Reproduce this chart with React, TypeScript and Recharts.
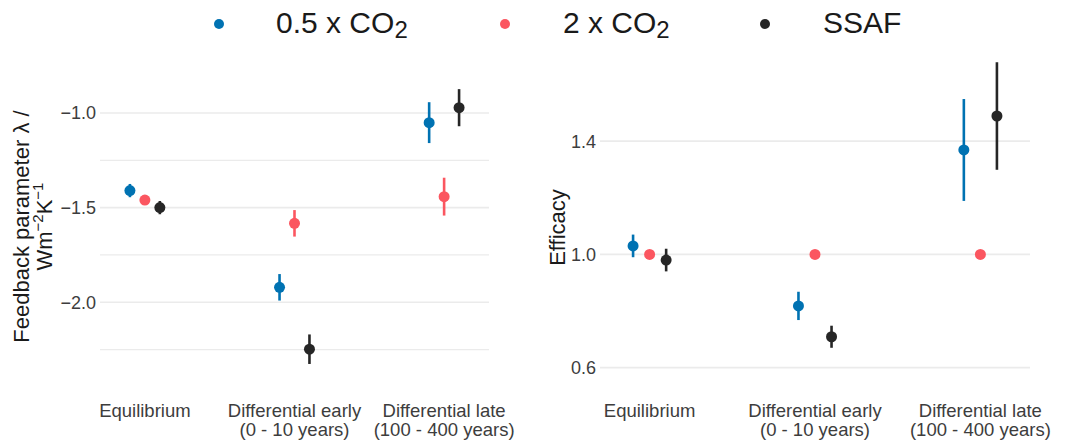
import React from "react";
import { ScatterChart, Scatter, XAxis, YAxis, ErrorBar, ReferenceLine } from "recharts";

// ---------- data ----------
const categoryLine1 = ["Equilibrium", "Differential early", "Differential late"];
const categoryLine2 = ["", "(0 - 10 years)", "(100 - 400 years)"];
const categoryPositions = [1, 2, 3];

const seriesLabels = ["0.5 x CO", "2 x CO", "SSAF"];
const seriesSubscripts = ["2", "2", ""];

const lambdaHalf = [-1.41, -1.921, -1.051];
const lambdaHalfErr = [0.035, 0.07, 0.108];
const lambdaDouble = [-1.46, -1.583, -1.442];
const lambdaDoubleErr = [0.012, 0.07, 0.1];
const lambdaSsaf = [-1.5, -2.248, -0.972];
const lambdaSsafErr = [0.035, 0.078, 0.098];

const efficacyHalf = [1.03, 0.818, 1.369];
const efficacyHalfErr = [0.04, 0.05, 0.18];
const efficacyDouble = [1.0, 1.0, 1.0];
const efficacyDoubleErr = [0, 0, 0];
const efficacySsaf = [0.98, 0.709, 1.489];
const efficacySsafErr = [0.04, 0.039, 0.19];

const lambdaTicks = [-2.0, -1.5, -1.0];
const lambdaMinorTicks = [-2.25, -1.75, -1.25];
const efficacyTicks = [0.6, 1.0, 1.4];

// ---------- styles ----------
const COLORS = ["#0072B2", "#FB5660", "#262626"];
const DODGE = [-0.1, 0, 0.1];
const FONT = "'Liberation Sans', Arial, Helvetica, sans-serif";
const TICK_COLOR = "#3d3d3d";
const GRID = "#ebebeb";

const build = (vals: number[], errs: number[], k: number) =>
  vals.map((v, i) => ({ x: categoryPositions[i] + DODGE[k], y: v, err: errs[i] }));

const lambdaSeries = [
  build(lambdaHalf, lambdaHalfErr, 0),
  build(lambdaDouble, lambdaDoubleErr, 1),
  build(lambdaSsaf, lambdaSsafErr, 2),
];
const efficacySeries = [
  build(efficacyHalf, efficacyHalfErr, 0),
  build(efficacyDouble, efficacyDoubleErr, 1),
  build(efficacySsaf, efficacySsafErr, 2),
];

const fmt = (v: number) => v.toFixed(1).replace("-", "\u2212");

const CatTick = (props: any) => {
  const { x, y, payload } = props;
  const i = categoryPositions.indexOf(payload.value);
  return (
    <text x={x} y={y} textAnchor="middle" fontSize={18.5} fill={TICK_COLOR} fontFamily={FONT}>
      <tspan x={x} dy={39}>{categoryLine1[i]}</tspan>
      {categoryLine2[i] ? <tspan x={x} dy={19}>{categoryLine2[i]}</tspan> : null}
    </text>
  );
};

const LeftTitle = (props: any) => {
  const vb = props.viewBox || { x: 0, y: 0, width: 100, height: 300 };
  const cy = vb.y + vb.height / 2;
  const x1 = vb.x + 29;
  const x2 = vb.x + 52;
  return (
    <g fontFamily={FONT} fontSize={22} fill="#1a1a1a">
      <text x={x1} y={cy} textAnchor="middle" transform={`rotate(-90, ${x1}, ${cy})`}>
        Feedback parameter λ /
      </text>
      <text x={x2} y={cy} textAnchor="middle" transform={`rotate(-90, ${x2}, ${cy})`}>
        Wm
        <tspan dy={-9} fontSize={15}>{"\u22122"}</tspan>
        <tspan dy={9} fontSize={22}>K</tspan>
        <tspan dy={-9} fontSize={15}>{"\u22121"}</tspan>
      </text>
    </g>
  );
};

const RightTitle = (props: any) => {
  const vb = props.viewBox || { x: 0, y: 0, width: 60, height: 300 };
  const cy = vb.y + vb.height - 150;
  const x1 = vb.x + 25;
  return (
    <text x={x1} y={cy} textAnchor="middle" fontFamily={FONT} fontSize={22} fill="#1a1a1a"
      transform={`rotate(-90, ${x1}, ${cy})`}>
      Efficacy
    </text>
  );
};

const dotShape = (color: string) => (p: any) => <circle cx={p.cx} cy={p.cy} r={5.5} fill={color} />;

type PanelProps = {
  width: number;
  margin: { top: number; right: number; bottom: number; left: number };
  yWidth: number;
  domain: [number, number];
  ticks: number[];
  minor: number[];
  series: { x: number; y: number; err: number }[][];
  title: (p: any) => React.ReactElement;
};

const Panel = ({ width, margin, yWidth, domain, ticks, minor, series, title }: PanelProps) => (
  <ScatterChart width={width} height={441} margin={margin}>
    {minor.map((m) => (
      <ReferenceLine key={"m" + m} y={m} stroke={GRID} strokeWidth={1.2} />
    ))}
    {ticks.map((t) => (
      <ReferenceLine key={"t" + t} y={t} stroke={GRID} strokeWidth={1.7} />
    ))}
    <XAxis
      type="number"
      dataKey="x"
      domain={[0.7, 3.3]}
      ticks={categoryPositions}
      axisLine={false}
      tickLine={false}
      tickSize={0}
      tickMargin={0}
      height={60}
      interval={0}
      tick={<CatTick />}
    />
    <YAxis
      type="number"
      dataKey="y"
      domain={domain}
      ticks={ticks}
      tickFormatter={fmt}
      axisLine={false}
      tickLine={false}
      tickSize={0}
      tickMargin={4}
      width={yWidth}
      tick={{ fontSize: 18, fill: TICK_COLOR, fontFamily: FONT }}
      label={{ content: title }}
    />
    {series.map((data, k) => (
      <Scatter key={k} name={seriesLabels[k]} data={data} isAnimationActive={false} shape={dotShape(COLORS[k])}>
        <ErrorBar dataKey="err" direction="y" width={0} strokeWidth={2.6} stroke={COLORS[k]} />
      </Scatter>
    ))}
  </ScatterChart>
);

const legendDotX = [219, 505, 765];
const legendTextX = [276, 563, 823];

export default function App() {
  return (
    <div style={{ position: "absolute", left: 0, top: 0, width: 1071, height: 441, background: "#fff" }}>
      <svg width={1071} height={50} style={{ position: "absolute", left: 0, top: 0 }}>
        {seriesLabels.map((s, k) => (
          <g key={s}>
            <circle cx={legendDotX[k]} cy={24} r={5} fill={COLORS[k]} />
            <text x={legendTextX[k]} y={33} fontSize={30} fontFamily={FONT} fill="#1a1a1a">
              {s}
              {seriesSubscripts[k] ? <tspan dy={5} fontSize={24}>{seriesSubscripts[k]}</tspan> : null}
            </text>
          </g>
        ))}
      </svg>
      <div style={{ position: "absolute", left: 0, top: 0 }}>
        <Panel
          width={540}
          margin={{ top: 75.6, right: 51, bottom: 3.5, left: 0 }}
          yWidth={100}
          domain={[-2.3975, -0.8025]}
          ticks={lambdaTicks}
          minor={lambdaMinorTicks}
          series={lambdaSeries}
          title={LeftTitle}
        />
      </div>
      <div style={{ position: "absolute", left: 540, top: 0 }}>
        <Panel
          width={531}
          margin={{ top: 56.3, right: 41, bottom: 3.5, left: 0 }}
          yWidth={60}
          domain={[0.565, 1.7]}
          ticks={efficacyTicks}
          minor={[]}
          series={efficacySeries}
          title={RightTitle}
        />
      </div>
    </div>
  );
}
